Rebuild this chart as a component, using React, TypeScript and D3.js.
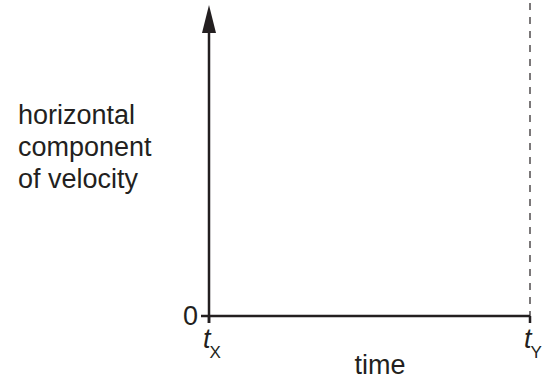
import React from 'react';
import * as d3 from 'd3';

// tick labels
const xTicks = [
  { key: 'X', value: 0 },
  { key: 'Y', value: 1 },
];
const yTicks = [{ label: '0', value: 0 }];
const yTitle = ['horizontal', 'component', 'of velocity'];
const xTitle = 'time';

const W = 543;
const H = 382;
const ink = '#231f20';
const font = '"Liberation Sans", Arial, Helvetica, sans-serif';
const fs = 27;

export default function App() {
  const margin = { top: 5, right: 13, bottom: 66, left: 209 };

  const x = d3.scaleLinear().domain([0, 1]).range([margin.left, W - margin.right]);
  const y = d3.scaleLinear().domain([0, 1]).range([H - margin.bottom, margin.top]);

  const x0 = x(0);
  const y0 = y(0);

  // arrow head on top of the vertical axis
  const arrow = d3.path();
  arrow.moveTo(x0, y(1));
  arrow.lineTo(x0 + 7, y(1) + 28);
  arrow.lineTo(x0 - 7, y(1) + 28);
  arrow.closePath();

  return (
    <svg width={W} height={H} style={{ position: 'absolute', left: 0, top: 0, background: '#fff' }}>
      {/* dashed line at tY */}
      <line x1={x(1)} x2={x(1)} y1={0} y2={y0} stroke={ink} strokeWidth={1.2} strokeDasharray="7,7" strokeDashoffset={-3} />

      {/* axes */}
      <line x1={x0} x2={x0} y1={y0 + 7} y2={y(1) + 20} stroke={ink} strokeWidth={2.5} />
      <path d={arrow.toString()} fill={ink} />
      <line x1={x0 - 8} x2={x(1)} y1={y0} y2={y0} stroke={ink} strokeWidth={2.5} />

      {xTicks.map(t => (
        <g key={t.key}>
          <line x1={x(t.value)} x2={x(t.value)} y1={y0} y2={y0 + 7} stroke={ink} strokeWidth={2.5} />
          <text x={x(t.value) - 6} y={y0 + 32} fontFamily={font} fontSize={fs} fill={ink}>
            <tspan fontStyle="italic">t</tspan>
            <tspan fontSize={17} dx={-1} dy={10}>{t.key}</tspan>
          </text>
        </g>
      ))}

      {yTicks.map(t => (
        <text key={t.label} x={x0 - 11} y={y(t.value)} dy="0.35em" textAnchor="end" fontFamily={font} fontSize={fs} fill={ink}>
          {t.label}
        </text>
      ))}

      <text fontFamily={font} fontSize={fs} fill={ink}>
        {yTitle.map((s, i) => (
          <tspan key={s} x={18} y={124 + i * 32}>{s}</tspan>
        ))}
      </text>

      <text x={380} y={374} textAnchor="middle" fontFamily={font} fontSize={fs} fill={ink}>
        {xTitle}
      </text>
    </svg>
  );
}
